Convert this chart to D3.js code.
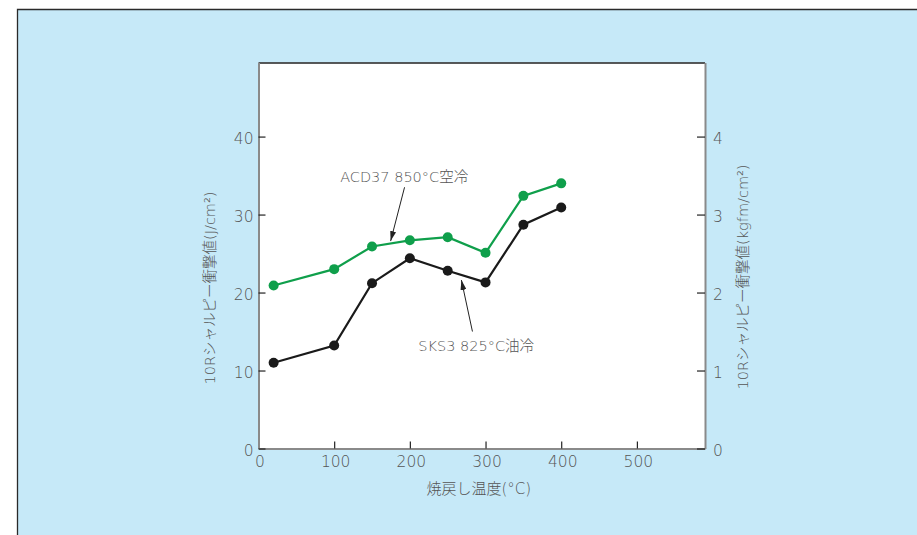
<!DOCTYPE html>
<html>
<head>
<meta charset="utf-8">
<script src="https://cdn.jsdelivr.net/npm/d3@7"></script>
<style>
  html, body { margin: 0; padding: 0; background: #ffffff; }
  svg { display: block; }
  text { font-family: "DejaVu Sans", "Noto Sans CJK JP", sans-serif; font-weight: 200; fill: #555; }
</style>
</head>
<body>
<div id="chart"></div>
<script>
// Tempering temperature (°C) and 10R Charpy impact values (J/cm²)
const temperatures = [20, 100, 150, 200, 250, 300, 350, 400];
const acd37Values  = [20.9, 23.0, 25.9, 26.7, 27.1, 25.1, 32.4, 34.0];
const sks3Values   = [11.0, 13.2, 21.2, 24.4, 22.8, 21.3, 28.7, 30.9];

const xTicks      = [0, 100, 200, 300, 400, 500];
const yTicks      = [0, 10, 20, 30, 40];
const yRightTicks = [0, 1, 2, 3, 4];

const seriesNames = ["ACD37 850°C空冷", "SKS3 825°C油冷"];
const xTitle      = "焼戻し温度(°C)";
const yTitle      = "10Rシャルピー衝撃値(J/cm²)";
const yRightTitle = "10Rシャルピー衝撃値(kgfm/cm²)";

// Annotation callouts in data units: label centre, arrow tail, arrow tip
const callouts = [
  { name: seriesNames[0], label: [192.5, 34.9], tail: [193, 33.5], tip: [174.6, 26.6] },
  { name: seriesNames[1], label: [287.7, 13.2], tail: [282.7, 15.0], tip: [268.1, 21.6] }
];

const W = 917, H = 535;
const svg = d3.select("#chart").append("svg").attr("width", W).attr("height", H);

// Light-blue panel with dark top/left edge
svg.append("rect").attr("x", 17.5).attr("y", 9.5).attr("width", W).attr("height", H)
  .attr("fill", "#c6e9f8");
svg.append("path").attr("d", `M17.5,${H} V9.5 H${W}`)
  .attr("fill", "none").attr("stroke", "#2a2a2a").attr("stroke-width", 1.3);

const x  = d3.scaleLinear().domain([0, 590]).range([258.5, 705]);
const y  = d3.scaleLinear().domain([0, 49.5]).range([448.5, 62.5]);
const yR = d3.scaleLinear().domain([0, 4.95]).range([448.5, 62.5]);

const plotLeft = x.range()[0], plotRight = x.range()[1];
const plotTop = y.range()[1], plotBottom = y.range()[0];

// Plot area
svg.append("rect").attr("x", plotLeft).attr("y", plotTop)
  .attr("width", plotRight - plotLeft).attr("height", plotBottom - plotTop).attr("fill", "#fff");
svg.append("line").attr("x1", plotLeft).attr("x2", plotRight)
  .attr("y1", plotTop + 0.5).attr("y2", plotTop + 0.5)
  .attr("stroke", "#222").attr("stroke-width", 1.3);

function styleAxis(g) {
  g.select(".domain").attr("stroke", "#8a8a8a").attr("stroke-width", 2);
  g.selectAll(".tick line").attr("stroke", "#222").attr("stroke-width", 1.2);
  g.selectAll(".tick text").attr("font-size", 15.5).attr("fill", "#555")
    .attr("font-family", null);
}

// Bottom axis
svg.append("g").attr("transform", `translate(0,${plotBottom})`)
  .call(d3.axisBottom(x).tickValues(xTicks).tickSize(-7).tickSizeOuter(0).tickPadding(7.5))
  .call(styleAxis)
  .call(g => g.selectAll(".tick text").attr("dx", 1));

// Left axis
svg.append("g").attr("transform", `translate(${plotLeft},0)`)
  .call(d3.axisLeft(y).tickValues(yTicks).tickSize(-7).tickSizeOuter(0).tickPadding(5))
  .call(styleAxis)
  .call(g => g.selectAll(".tick text").attr("dy", "0.42em"));

// Right axis
svg.append("g").attr("transform", `translate(${plotRight},0)`)
  .call(d3.axisRight(yR).tickValues(yRightTicks).tickFormat(d3.format("d"))
    .tickSize(-8).tickSizeOuter(0).tickPadding(8))
  .call(styleAxis)
  .call(g => g.selectAll(".tick text").attr("dy", "0.42em"));

// Axis titles
svg.append("text").attr("x", (plotLeft + plotRight) / 2 - 3).attr("y", 494)
  .attr("text-anchor", "middle").attr("font-size", 15).text(xTitle);
svg.append("text").attr("transform", "translate(215,288) rotate(-90)")
  .attr("text-anchor", "middle").attr("font-size", 14.5).text(yTitle);
svg.append("text").attr("transform", "translate(748,277) rotate(-90)")
  .attr("text-anchor", "middle").attr("font-size", 14.5).text(yRightTitle);

// Series lines and markers
const series = [
  { values: acd37Values, color: "#0f9f4b" },
  { values: sks3Values,  color: "#1a1a1a" }
];
const line = d3.line().x((d, i) => x(temperatures[i])).y(d => y(d));
series.forEach(s => {
  svg.append("path").datum(s.values).attr("d", line)
    .attr("fill", "none").attr("stroke", s.color).attr("stroke-width", 2.2);
  svg.append("g").selectAll("circle").data(s.values).join("circle")
    .attr("cx", (d, i) => x(temperatures[i])).attr("cy", d => y(d))
    .attr("r", 5).attr("fill", s.color);
});

// Callout labels with arrows
svg.append("defs").append("marker")
  .attr("id", "arrowhead").attr("viewBox", "0 0 10 6")
  .attr("refX", 10).attr("refY", 3)
  .attr("markerWidth", 10).attr("markerHeight", 6)
  .attr("markerUnits", "userSpaceOnUse").attr("orient", "auto")
  .append("path").attr("d", "M0,0 L10,3 L0,6 Z").attr("fill", "#222");

callouts.forEach(c => {
  svg.append("text").attr("x", x(c.label[0])).attr("y", y(c.label[1]))
    .attr("dy", "0.36em").attr("text-anchor", "middle").attr("font-size", 14.5)
    .text(c.name);
  svg.append("line")
    .attr("x1", x(c.tail[0])).attr("y1", y(c.tail[1]))
    .attr("x2", x(c.tip[0])).attr("y2", y(c.tip[1]))
    .attr("stroke", "#222").attr("stroke-width", 1)
    .attr("marker-end", "url(#arrowhead)");
});
</script>
</body>
</html>
